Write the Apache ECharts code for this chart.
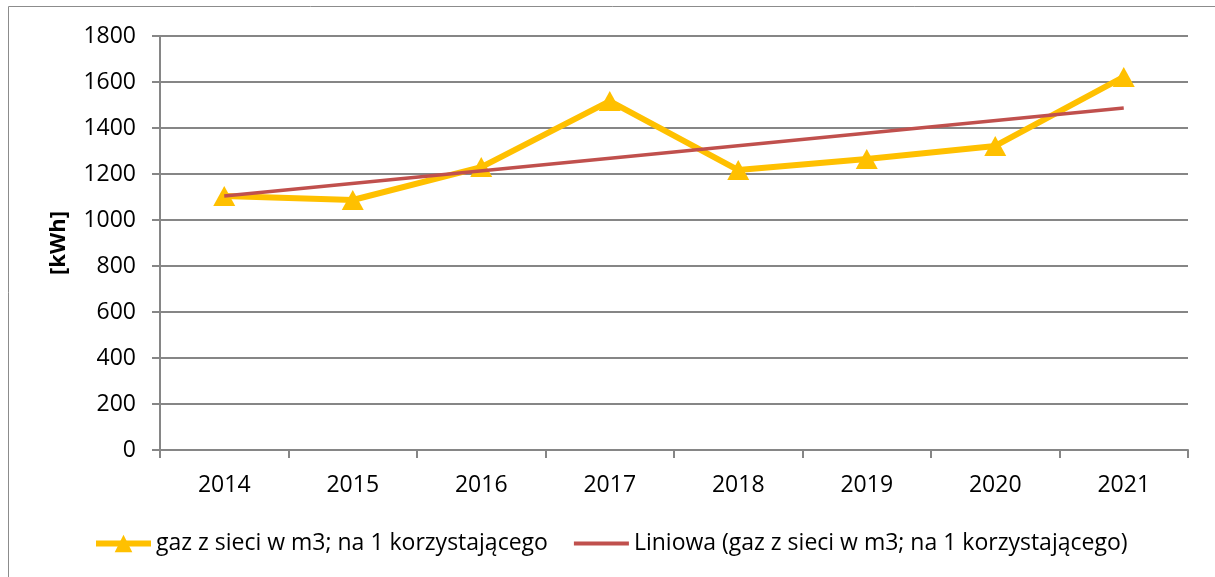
<!DOCTYPE html>
<html>
<head>
<meta charset="utf-8">
<script src="https://cdn.jsdelivr.net/npm/echarts@6/dist/echarts.min.js"></script>
<style>
  html, body { margin: 0; padding: 0; background: #fff; }
  #chart { width: 1215px; height: 577px; }
</style>
</head>
<body>
<div id="chart"></div>
<script>
// lata
const years = ['2014', '2015', '2016', '2017', '2018', '2019', '2020', '2021']
// gaz z sieci w m3; na 1 korzystającego [kWh]
const gasValues = [1104, 1087, 1230, 1517, 1217, 1265, 1322, 1622]
// linia trendu - tylko punkty końcowe
const trendValues = [1104, null, null, null, null, null, null, 1487]
const yTicks = {min: 0, max: 1800, interval: 200}

const seriesName = 'gaz z sieci w m3; na 1 korzystającego'
const trendName = 'Liniowa (gaz z sieci w m3; na 1 korzystającego)'
const fontFamily = '"Open Sans", Lato, sans-serif'

const chart = echarts.init(document.getElementById('chart'))
chart.setOption({
  animation: false,
  textStyle: {fontFamily: fontFamily},
  graphic: [
    {
      type: 'rect',
      shape: {x: 8.5, y: 6.5, width: 1240, height: 600},
      style: {fill: 'none', stroke: '#8c8c8c', lineWidth: 1},
      silent: true
    }
  ],
  grid: {left: 160, right: 27, top: 36, bottom: 127},
  legend: {
    left: 88,
    top: 527,
    itemWidth: 55,
    itemHeight: 22,
    itemGap: 24,
    textStyle: {fontSize: 23, color: '#000', fontFamily: fontFamily},
    data: [
      {name: seriesName, lineStyle: {width: 6}},
      {name: trendName, lineStyle: {width: 4}, itemStyle: {opacity: 0}}
    ]
  },
  xAxis: {
    type: 'category',
    data: years,
    boundaryGap: true,
    axisLine: {lineStyle: {color: '#868686', width: 2}},
    axisTick: {show: true, length: 8, lineStyle: {color: '#868686', width: 2}},
    axisLabel: {fontSize: 23, color: '#000', margin: 24}
  },
  yAxis: {
    type: 'value',
    min: yTicks.min,
    max: yTicks.max,
    interval: yTicks.interval,
    name: '[kWh]',
    nameLocation: 'middle',
    nameGap: 90,
    nameRotate: 90,
    nameTextStyle: {fontSize: 22, fontWeight: 'bold', color: '#000'},
    axisLine: {show: true, lineStyle: {color: '#868686', width: 2}},
    axisTick: {show: true, length: 8, lineStyle: {color: '#868686', width: 2}},
    axisLabel: {fontSize: 23, color: '#000', margin: 24, formatter: v => String(v)},
    splitLine: {lineStyle: {color: '#868686', width: 2}}
  },
  series: [
    {
      name: seriesName,
      type: 'line',
      data: gasValues,
      symbol: 'triangle',
      symbolSize: [22, 20],
      showAllSymbol: true,
      lineStyle: {color: '#FFC000', width: 6},
      itemStyle: {color: '#FFC000', borderWidth: 0},
      z: 2
    },
    {
      name: trendName,
      type: 'line',
      data: trendValues,
      connectNulls: true,
      symbol: 'none',
      lineStyle: {color: '#C0504D', width: 3.5},
      itemStyle: {color: '#C0504D'},
      z: 3
    }
  ]
})
</script>
</body>
</html>
